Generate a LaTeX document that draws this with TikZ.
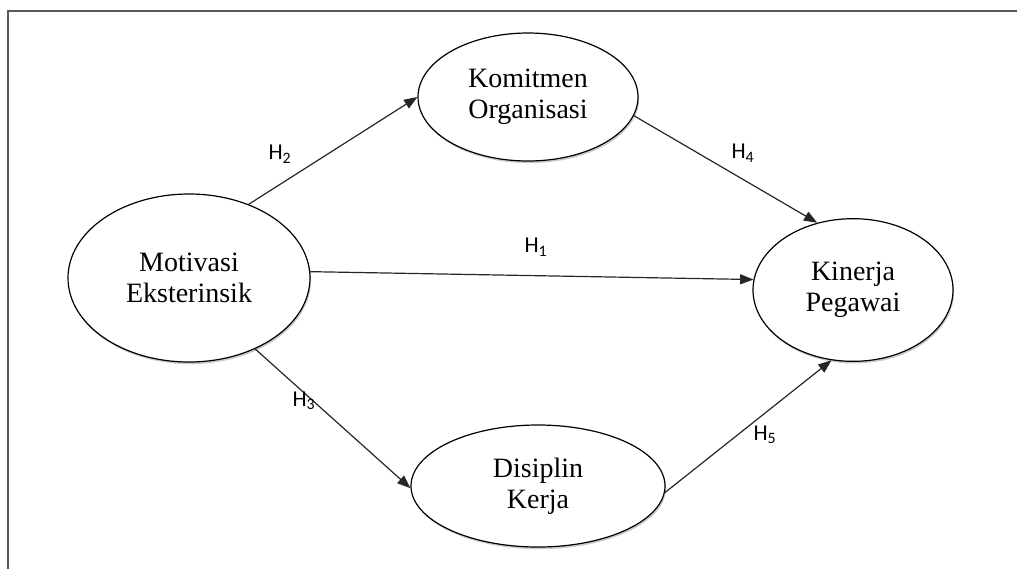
\documentclass[tikz,border=0pt]{standalone}
\usepackage{fontspec}
\setmainfont{Liberation Serif}
\newfontfamily\labfont{Carlito}
\usetikzlibrary{shapes.geometric,arrows.meta,shadows}
\begin{document}
\begin{tikzpicture}[x=0.75pt,y=-0.75pt,
  var/.style={ellipse,draw=black,line width=0.9pt,fill=white,inner sep=0pt,align=center,
    font=\fontsize{21}{23}\selectfont,
    drop shadow={shadow xshift=0.8pt,shadow yshift=-1.6pt,opacity=0.35,fill=black!60}},
  link/.style={draw=black!85,line width=0.9pt,-{Triangle[length=10pt,width=7.5pt]}},
  hyp/.style={font=\labfont\fontsize{17}{17}\selectfont,inner sep=0pt},
  frame/.style={draw=black!65,line width=1.5pt}]
\useasboundingbox (0,0) rectangle (1017,569);
\coordinate (fa) at (8,569);
\coordinate (fb) at (8,11);
\coordinate (fc) at (1017,11);
\draw[frame] (fa) -- (fb) -- (fc);

\node[var,minimum width=181.5pt,minimum height=126pt] (mot) at (189,278) {Motivasi\\Eksterinsik};
\node[var,minimum width=165pt,minimum height=96pt] (kom) at (528,97) {Komitmen\\Organisasi};
\node[var,minimum width=150pt,minimum height=107pt] (kin) at (853,290) {Kinerja\\Pegawai};
\node[var,minimum width=190.5pt,minimum height=91.5pt] (dis) at (538,486) {Disiplin\\Kerja};

\draw[link] (mot.51) -- (kom.180);
\draw[link] (mot.3) -- (kin.174);
\draw[link] (mot.-47) -- (dis.181);
\draw[link] (kom.-10) -- (kin.118);
\draw[link] (dis.-3) -- (kin.-107);

\node[hyp] (h2) at (280,154) {H\textsubscript{2}};
\node[hyp] (h1) at (536,247) {H\textsubscript{1}};
\node[hyp] (h3) at (304,401) {H\textsubscript{3}};
\node[hyp] (h4) at (743,153) {H\textsubscript{4}};
\node[hyp] (h5) at (765,435) {H\textsubscript{5}};
\end{tikzpicture}
\end{document}
